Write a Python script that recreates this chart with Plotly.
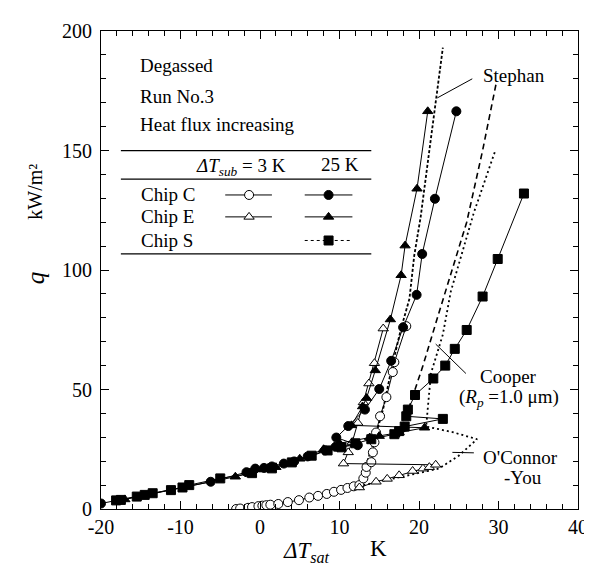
import plotly.graph_objects as go

# ---------------- data (ΔT_sat in K, q in kW/m^2) ----------------
c3_x = [-3.0, -2.5, -1.5, -1.0, -0.2, 0.3, 0.8, 1.3, 2.3, 3.5, 4.9, 6.2, 7.3, 8.4, 9.3, 10.2, 11.0, 11.8, 12.5,
        13.0, 13.3, 13.4, 14.0, 14.2, 14.4, 14.6, 15.1, 15.9, 16.7, 16.9, 18.4]
c3_q = [0.0, 0.2, 0.5, 0.8, 1.2, 1.4, 1.6, 1.8, 2.1, 2.9, 3.7, 4.8, 5.5, 6.3, 7.2, 8.0, 8.8, 9.5, 10.0,
        12.8, 15.2, 17.6, 19.6, 23.7, 27.9, 32.0, 38.8, 46.8, 57.3, 61.4, 76.5]

c25_x = [-20.0, -6.2, -1.7, -0.6, 0.5, 1.5, 3.0, 4.3, 6.0, 8.2, 9.5, 12.3, 9.6, 11.1, 13.2, 15.0, 16.5, 18.0,
         19.7, 20.4, 22.0, 24.7]
c25_q = [2.3, 11.4, 15.4, 16.9, 17.2, 17.8, 19.0, 19.9, 22.0, 24.5, 26.0, 26.7, 29.9, 34.7, 41.6, 50.2, 62.0,
         76.0, 89.6, 106.7, 129.8, 166.4]

e3_x = [12.5, 14.6, 16.0, 17.5, 19.2, 20.5, 21.3, 22.1, 10.5, 11.1, 11.6, 12.3, 13.0, 13.7, 14.4, 15.5]
e3_q = [9.0, 11.4, 12.6, 14.1, 15.9, 16.9, 17.5, 18.5, 19.0, 23.7, 28.0, 36.0, 44.6, 52.5, 61.0, 75.5]

e25_x = [-17.0, -3.1, 0.5, 2.0, 5.0, 8.0, 10.0, 13.8, 15.0, 17.5, 20.7, 11.5, 12.9, 13.4, 14.5, 16.4, 17.75,
         18.25, 19.75, 21.1]
e25_q = [4.0, 13.5, 16.5, 17.5, 21.0, 25.0, 27.5, 29.9, 30.5, 32.0, 34.0, 35.0, 42.9, 46.4, 58.0, 79.3, 97.8,
         110.2, 134.0, 166.4]

s25_x = [-18.1, -17.5, -15.5, -14.5, -13.5, -11.2, -9.75, -8.9, -5.0, -1.0, 1.5, 4.0, 6.5, 8.5, 10.25, 12.0,
         14.0, 16.9, 17.5, 18.2, 23.0, 18.4, 18.6, 19.5, 21.8, 23.3, 24.5, 26.0, 28.0, 29.9, 33.2]
s25_q = [3.6, 3.8, 5.2, 5.9, 6.6, 7.9, 9.0, 10.0, 12.8, 15.0, 17.0, 19.5, 22.3, 24.5, 25.8, 27.5,
         29.2, 31.3, 32.6, 34.5, 37.7, 38.8, 41.6, 47.7, 54.6, 60.0, 67.0, 74.9, 88.9, 104.6, 132.0]

# correlations
stephan_x = [13.5, 14.5, 15.5, 16.5, 17.7, 18.8, 19.4, 20.2, 21.3, 23.0]
stephan_q = [20.0, 30.0, 42.0, 58.0, 75.0, 88.0, 106.0, 122.0, 150.0, 193.0]

cooper_x = [17.5, 19.0, 20.5, 22.5, 24.2, 26.0, 28.0, 29.7]
cooper_q = [30.0, 45.0, 60.0, 82.0, 100.0, 120.0, 150.0, 178.0]

oconnor_x = [13.0, 16.7, 22.5, 25.0, 27.3, 24.2, 20.9, 21.5, 23.0, 24.0, 26.9, 29.6]
oconnor_q = [10.0, 12.8, 16.9, 22.3, 29.2, 32.2, 34.5, 56.7, 73.0, 91.0, 124.0, 150.0]

x_ticks = [-20, -10, 0, 10, 20, 30, 40]
y_ticks = [0, 50, 100, 150, 200]

# ---------------- figure ----------------
W, H = 592, 571
L, R, T, B = 93, 19, 15, 70
FONT = "Liberation Serif, Times New Roman, Times, serif"

fig = go.Figure()


def series(x, y, symbol, filled, dash="solid"):
    fig.add_trace(go.Scatter(
        x=x, y=y, mode="lines+markers",
        line=dict(color="black", width=1, dash=dash),
        marker=dict(symbol=symbol, size=9,
                    color="black" if filled else "white",
                    line=dict(color="black", width=1)),
        showlegend=False))


def model(x, y, dash, width=1.6):
    fig.add_trace(go.Scatter(x=x, y=y, mode="lines",
                             line=dict(color="black", width=width, dash=dash),
                             showlegend=False))


model(stephan_x, stephan_q, "3px,2px", 1.8)
model(cooper_x, cooper_q, "6px,4px", 1.6)
model(oconnor_x, oconnor_q, "2px,3px", 1.8)

series(c3_x, c3_q, "circle", False)
series(e3_x, e3_q, "triangle-up", False)
series(s25_x, s25_q, "square", True)
series(e25_x, e25_q, "triangle-up", True)
series(c25_x, c25_q, "circle", True)

# leader lines for model labels
fig.add_shape(type="line", x0=22.3, y0=172, x1=26.7, y1=180, line=dict(color="black", width=1))
fig.add_shape(type="line", x0=22.1, y0=69, x1=25.9, y1=56.7, line=dict(color="black", width=1))
fig.add_shape(type="line", x0=24.2, y0=23.7, x1=26.9, y1=23.5, line=dict(color="black", width=1))

tf = dict(family=FONT, size=19, color="black")
fig.add_annotation(x=27.8, y=181.5, text="Stephan", showarrow=False, xanchor="left", font=tf)
fig.add_annotation(x=31.3, y=55.6, text="Cooper", showarrow=False, xanchor="center", font=tf)
fig.add_annotation(x=31.3, y=46.6, text="(<i>R</i><sub><i>p</i></sub> =1.0 μm)", showarrow=False,
                   xanchor="center", font=tf)
fig.add_annotation(x=32.75, y=21.6, text="O'Connor", showarrow=False, xanchor="center", font=tf)
fig.add_annotation(x=33.1, y=13.0, text="-You", showarrow=False, xanchor="center", font=tf)


# ---------------- text block and table legend (paper coords from pixels) ----------------
def px(X):
    return (X - L) / (W - L - R)


def py(Y):
    return (H - B - Y) / (H - T - B)


for txt, Y in [("Degassed", 50), ("Run No.3", 81.7), ("Heat flux increasing", 110)]:
    fig.add_annotation(xref="paper", yref="paper", x=px(130), y=py(Y), text=txt, showarrow=False,
                       xanchor="left", yanchor="middle", font=tf)

for Y in [136.7, 165.7, 241.7]:
    fig.add_shape(type="line", xref="paper", yref="paper", x0=px(113), x1=px(365), y0=py(Y), y1=py(Y),
                  line=dict(color="black", width=1.3))

fig.add_annotation(xref="paper", yref="paper", x=px(281), y=py(153),
                   text="<i>ΔT</i><sub><i>sub</i></sub> = 3 K", showarrow=False, xanchor="right",
                   yanchor="middle", font=tf)
fig.add_annotation(xref="paper", yref="paper", x=px(333), y=py(151), text="25 K", showarrow=False,
                   xanchor="center", yanchor="middle", font=tf)

legend_rows = [("Chip C", 181.7), ("Chip E", 204), ("Chip S", 228)]
for txt, Y in legend_rows:
    fig.add_annotation(xref="paper", yref="paper", x=px(131), y=py(Y), text=txt, showarrow=False,
                       xanchor="left", yanchor="middle", font=tf)

# legend samples on an overlay axis with unit range
samples = [
    ("circle", False, 218, 265, 242, 181.7, "solid"),
    ("circle", True, 298, 346, 322, 181.7, "solid"),
    ("triangle-up", False, 218, 265, 242, 204, "solid"),
    ("triangle-up", True, 298, 346, 322, 204, "solid"),
    ("square", True, 298, 346, 322, 228, "dot"),
]
for sym, filled, xa, xb, xm, Y, dash in samples:
    fig.add_trace(go.Scatter(x=[px(xa), px(xb)], y=[py(Y), py(Y)], mode="lines",
                             line=dict(color="black", width=1, dash=dash),
                             xaxis="x2", yaxis="y2", showlegend=False))
    fig.add_trace(go.Scatter(x=[px(xm)], y=[py(Y)], mode="markers",
                             marker=dict(symbol=sym, size=9, color="black" if filled else "white",
                                         line=dict(color="black", width=1)),
                             xaxis="x2", yaxis="y2", showlegend=False))

# axis titles
fig.add_annotation(xref="paper", yref="paper", x=px(300), y=py(545),
                   text="<i>ΔT</i><sub><i>sat</i></sub>", showarrow=False, xanchor="center",
                   yanchor="middle", font=dict(family=FONT, size=23, color="black"))
fig.add_annotation(xref="paper", yref="paper", x=px(372), y=py(541), text="K", showarrow=False,
                   xanchor="center", yanchor="middle", font=dict(family=FONT, size=23, color="black"))
fig.add_annotation(xref="paper", yref="paper", x=px(27), y=py(266), text="<i>q</i>", showarrow=False,
                   textangle=-90, xanchor="center", yanchor="middle",
                   font=dict(family=FONT, size=25, color="black"))
fig.add_annotation(xref="paper", yref="paper", x=px(27), y=py(178), text="kW/m²", showarrow=False,
                   textangle=-90, xanchor="center", yanchor="middle",
                   font=dict(family=FONT, size=20, color="black"))

axis_common = dict(showgrid=False, zeroline=False, showline=True, linecolor="black", linewidth=1.2,
                   mirror="allticks", ticks="inside", ticklen=8, tickwidth=1, tickcolor="black",
                   tickfont=dict(family=FONT, size=20, color="black"))

fig.update_layout(
    width=W, height=H, margin=dict(l=L, r=R, t=T, b=B),
    paper_bgcolor="white", plot_bgcolor="white",
    font=dict(family=FONT, color="black"),
    xaxis=dict(range=[-20, 40], tickvals=x_ticks, ticktext=[str(v) for v in x_ticks],
               minor=dict(dtick=2, tick0=0, ticklen=5, ticks="inside", tickcolor="black"),
               **axis_common),
    yaxis=dict(range=[0, 200], tickvals=y_ticks, ticktext=[str(v) for v in y_ticks],
               minor=dict(dtick=10, tick0=0, ticklen=5, ticks="inside", tickcolor="black"),
               ticklabelstandoff=4, **axis_common),
    xaxis2=dict(range=[0, 1], overlaying="x", visible=False, fixedrange=True),
    yaxis2=dict(range=[0, 1], overlaying="y", visible=False, fixedrange=True),
)

fig.write_html("out.html")
